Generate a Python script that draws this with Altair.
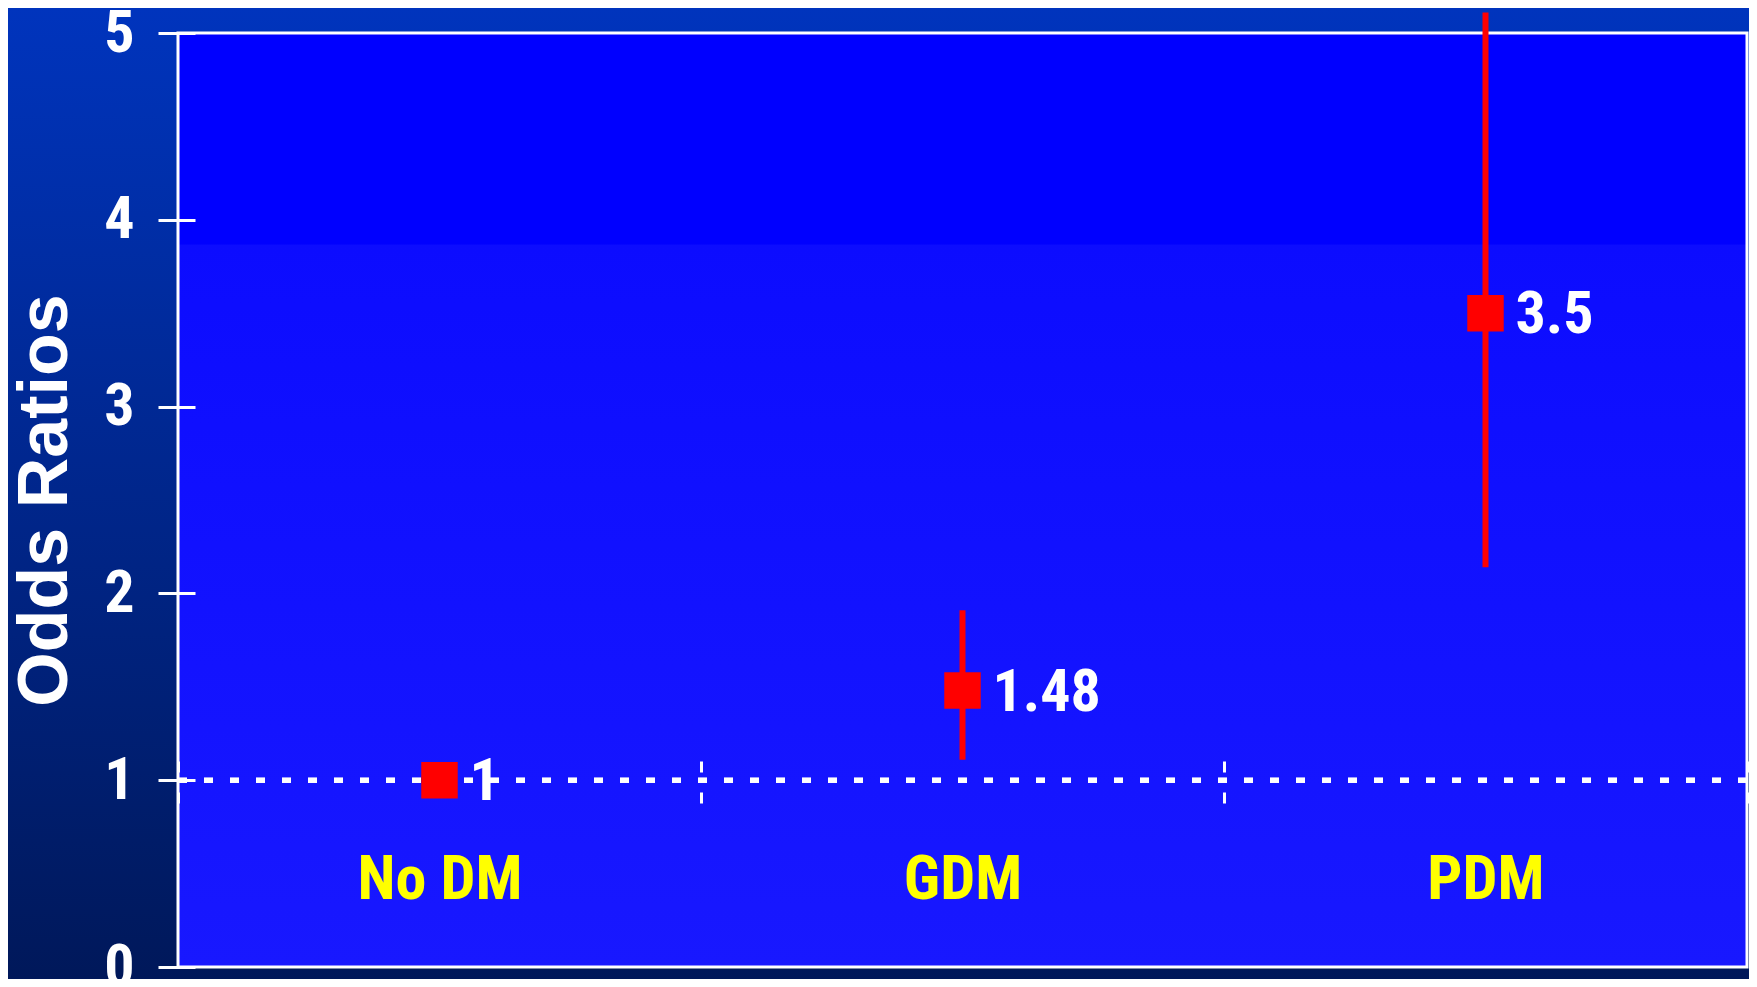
import altair as alt
import pandas as pd

categories = ["No DM", "GDM", "PDM"]
odds_ratio = [1.0, 1.48, 3.5]
ci_lower = [1.0, 1.11, 2.14]
ci_upper = [1.0, 1.91, 5.11]
value_labels = ["1", "1.48", "3.5"]
y_ticks = [0, 1, 2, 3, 4, 5]
reference_value = 1

W, H = 1569, 934
PAD_L, PAD_T, PAD_R, PAD_B = 170, 25, 2, 12

NARROW = "Liberation Sans Narrow, Arial Narrow, Roboto Condensed, Liberation Sans, sans-serif"
WIDE = "Liberation Sans, Arial, sans-serif"

df = pd.DataFrame({
    "cat": categories,
    "or": odds_ratio,
    "lo": ci_lower,
    "hi": ci_upper,
    "lab": value_labels,
})
one = pd.DataFrame({"k": [0]})

x_enc = alt.X(
    "cat:N",
    sort=categories,
    scale=alt.Scale(paddingInner=0, paddingOuter=0),
    axis=alt.Axis(
        title=None, orient="bottom", offset=-206, domain=False,
        tickBand="extent", tickSize=42, tickDash=[11, 20], tickWidth=3,
        tickColor="white", labelColor="#ffff00", labelFont=NARROW,
        labelFontSize=62, labelFontWeight="bold", labelPadding=46,
        labelAngle=0, zindex=1,
    ),
)
y_scale = alt.Scale(domain=[0, 5], nice=False, zero=True)
y_axis = alt.Axis(
    values=y_ticks, grid=False, domain=False, offset=-17,
    tickColor="white", tickWidth=3, tickSize=37,
    labelColor="white", labelFont=NARROW, labelFontSize=60,
    labelFontWeight="bold", labelPadding=24, format="d",
    title="Odds Ratios", titleColor="white", titleFont=WIDE,
    titleFontSize=70, titleFontWeight="bold", titleAngle=-90,
    titleX=-150, titleY=H / 2, titleAlign="center", titleBaseline="middle",
    zindex=1,
)

bg = alt.Chart(one).mark_rect(
    fill=alt.Gradient(
        gradient="linear", x1=0, x2=0, y1=0, y2=1,
        stops=[alt.GradientStop(offset=0, color="#0034bd"),
               alt.GradientStop(offset=1, color="#00185a")],
    ),
    clip=False,
).encode(
    x=alt.value(-PAD_L), x2=alt.value(W + PAD_R),
    y=alt.value(-PAD_T), y2=alt.value(H + PAD_B),
)

plot_bg = alt.Chart(one).mark_rect(
    fill=alt.Gradient(
        gradient="linear", x1=0, x2=0, y1=0, y2=1,
        stops=[alt.GradientStop(offset=0, color="#0000ff"),
               alt.GradientStop(offset=0.226, color="#0000ff"),
               alt.GradientStop(offset=0.227, color="#0c0cff"),
               alt.GradientStop(offset=1, color="#1818ff")],
    ),
    stroke="white", strokeWidth=3,
).encode(
    x=alt.value(0), x2=alt.value(W), y=alt.value(0), y2=alt.value(H),
)

base = alt.Chart(df)

ref_line = base.mark_rule(
    color="white", strokeWidth=5, strokeDash=[9, 17]
).encode(
    y=alt.datum(reference_value, scale=y_scale, axis=y_axis, type="quantitative"),
)

err = base.mark_rule(color="#ff0000", strokeWidth=6, clip=False).encode(
    x=x_enc,
    y=alt.Y("lo:Q", scale=y_scale, axis=y_axis),
    y2="hi:Q",
)

pts = base.mark_point(
    shape="square", size=1330, filled=True, color="#ff0000", opacity=1
).encode(
    x=x_enc,
    y=alt.Y("or:Q", scale=y_scale, axis=y_axis),
)

txt = base.mark_text(
    align="left", baseline="middle", dx=30, dy=2, font=NARROW,
    fontSize=60, fontWeight="bold", color="white",
).encode(
    x=x_enc,
    y=alt.Y("or:Q", scale=y_scale, axis=y_axis),
    text="lab:N",
)

chart = alt.layer(bg, plot_bg, ref_line, err, pts, txt).properties(
    width=W, height=H,
    autosize=alt.AutoSizeParams(type="none"),
    padding={"left": PAD_L, "top": PAD_T, "right": PAD_R, "bottom": PAD_B},
    background="#002a90",
).configure_view(stroke=None)

chart.save("out.html", embed_options={"renderer": "svg", "actions": False})
